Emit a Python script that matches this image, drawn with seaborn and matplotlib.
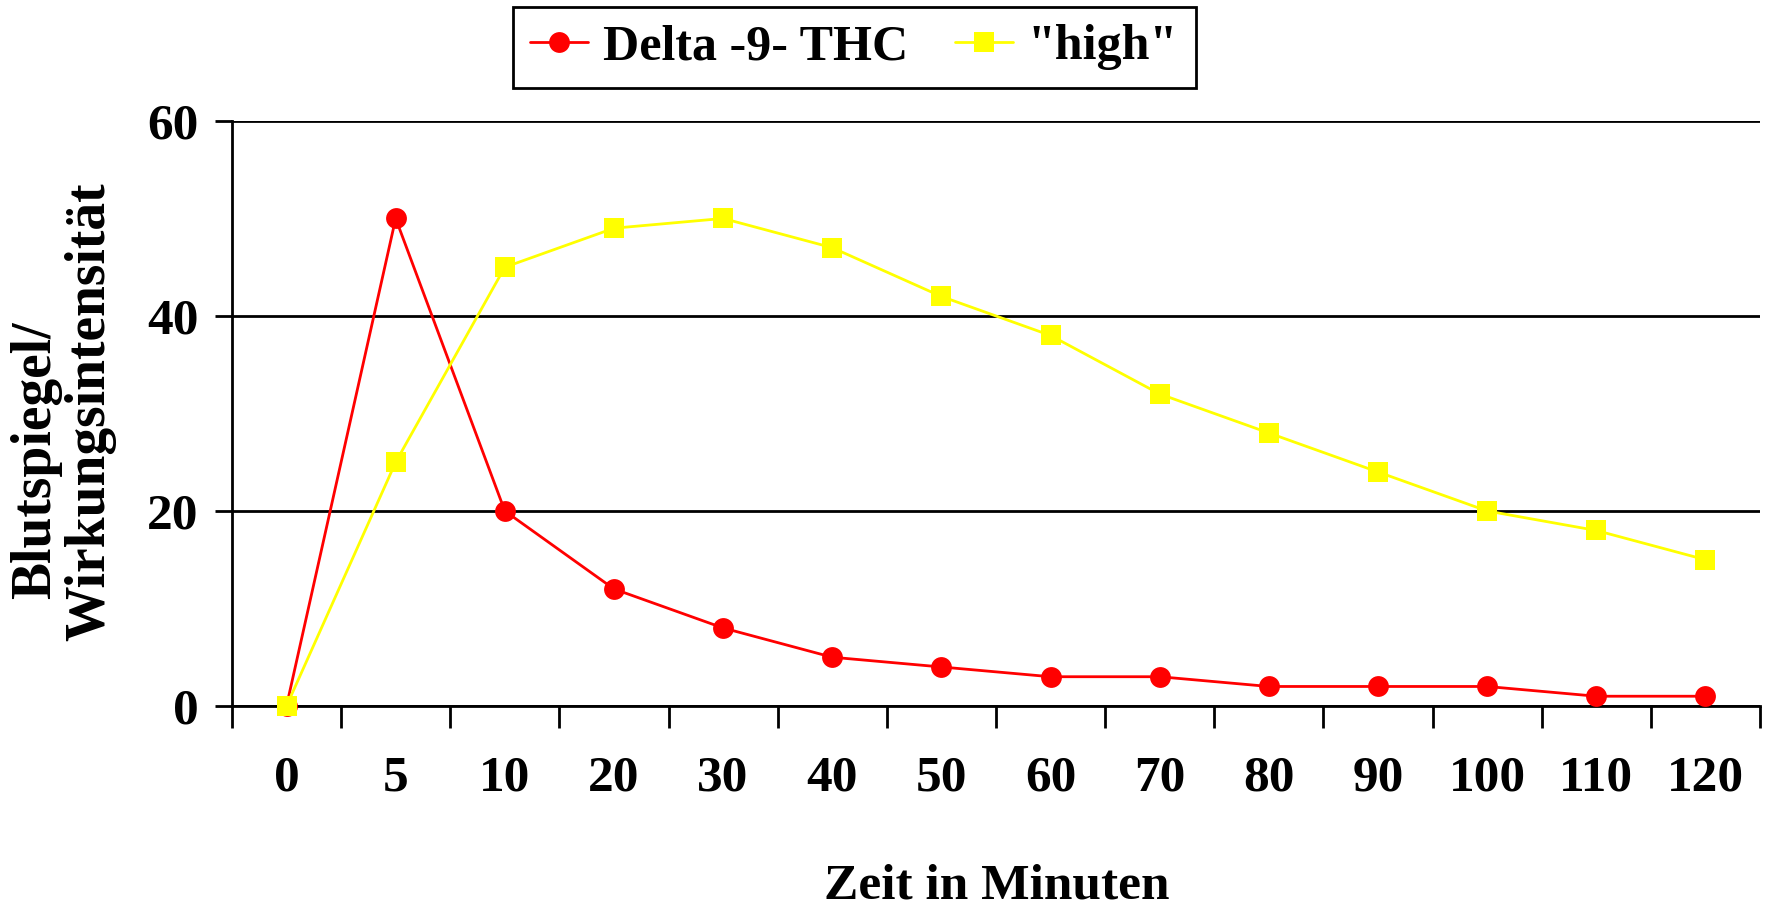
import numpy as np
import pandas as pd
import matplotlib
matplotlib.use("Agg")
import matplotlib.pyplot as plt
import seaborn as sns
from matplotlib.lines import Line2D

# ---- data ----
categories = ["0", "5", "10", "20", "30", "40", "50", "60", "70", "80", "90", "100", "110", "120"]
thc_values = [0, 50, 20, 12, 8, 5, 4, 3, 3, 2, 2, 2, 1, 1]
high_values = [0, 25, 45, 49, 50, 47, 42, 38, 32, 28, 24, 20, 18, 15]
series_names = ["Delta -9- THC", '"high"']
y_ticks = [0, 20, 40, 60]
x_label = "Zeit in Minuten"
y_label_lines = ["Blutspiegel/", "Wirkungsintensität"]

sns.set_style("white")
plt.rcParams["font.family"] = ["Liberation Serif", "DejaVu Serif"]
plt.rcParams["font.weight"] = "bold"
plt.rcParams["text.color"] = "black"
plt.rcParams["axes.labelcolor"] = "black"
plt.rcParams["xtick.color"] = "black"
plt.rcParams["ytick.color"] = "black"

colors = {series_names[0]: "#FF0000", series_names[1]: "#FFFF00"}
markers = {series_names[0]: "o", series_names[1]: "s"}

pos = np.arange(len(categories))
df = pd.DataFrame({
    "pos": np.concatenate([pos, pos]),
    "value": thc_values + high_values,
    "series": [series_names[0]] * len(pos) + [series_names[1]] * len(pos),
})

fig = plt.figure(figsize=(17.72, 9.10), dpi=100)
ax = fig.add_axes([0.1309, 0.2242, 0.8623, 0.6429])

sns.lineplot(data=df, x="pos", y="value", hue="series", style="series",
             markers=markers, dashes=False, palette=colors,
             markersize=15, linewidth=2.0, markeredgewidth=0,
             clip_on=False, zorder=5, ax=ax, legend=False)

ax.set_xlim(-0.5, len(categories) - 0.5)
ax.set_ylim(0, 60)

# x ticks: boundaries as tick marks, labels at category centres
ax.set_xticks(np.arange(-0.5, len(categories)), labels=[""] * (len(categories) + 1))
ax.set_xticks(pos, minor=True)
ax.set_xticklabels(categories, minor=True)
ax.tick_params(axis="x", which="major", direction="out", length=16, width=2,
               color="black", bottom=True)
ax.tick_params(axis="x", which="minor", length=0, pad=36, labelsize=37,
               labelcolor="black")

ax.set_yticks(y_ticks)
ax.tick_params(axis="y", direction="out", length=12, width=2, color="black",
               left=True, pad=12, labelsize=37, labelcolor="black")

for lab in ax.get_xticklabels(minor=True) + ax.get_yticklabels():
    lab.set_fontweight("bold")

ax.grid(axis="y", color="black", linewidth=2)
ax.grid(axis="x", visible=False)
ax.set_axisbelow(True)
for s in ["top", "right"]:
    ax.spines[s].set_visible(False)
for s in ["left", "bottom"]:
    ax.spines[s].set_color("black")
    ax.spines[s].set_linewidth(2)

ax.set_xlabel(x_label, fontsize=37, fontweight="bold", color="black")
ax.xaxis.set_label_coords(0.5007, -0.309)
ax.xaxis.label.set_verticalalignment("center")
ax.set_ylabel("")

fig.text(36 / 1772, 1 - 460 / 910, y_label_lines[0], rotation=90, ha="center",
         va="center", fontsize=40, fontweight="bold", color="black")
fig.text(90 / 1772, 1 - 412 / 910, y_label_lines[1], rotation=90, ha="center",
         va="center", fontsize=40, fontweight="bold", color="black")

handles = [Line2D([], [], color=colors[n], marker=markers[n], markersize=15,
                  linewidth=2.0, markeredgewidth=0) for n in series_names]
leg = fig.legend(handles, series_names, loc="center", bbox_to_anchor=(0.482, 0.948),
                 ncol=2, frameon=True, fancybox=False, edgecolor="black",
                 framealpha=1, handlelength=1.15, handletextpad=0.3,
                 columnspacing=0.95, borderpad=0.35, borderaxespad=0,
                 prop={"size": 36, "weight": "bold"})
leg.get_frame().set_linewidth(2)

fig.savefig("out.png", dpi=100)
